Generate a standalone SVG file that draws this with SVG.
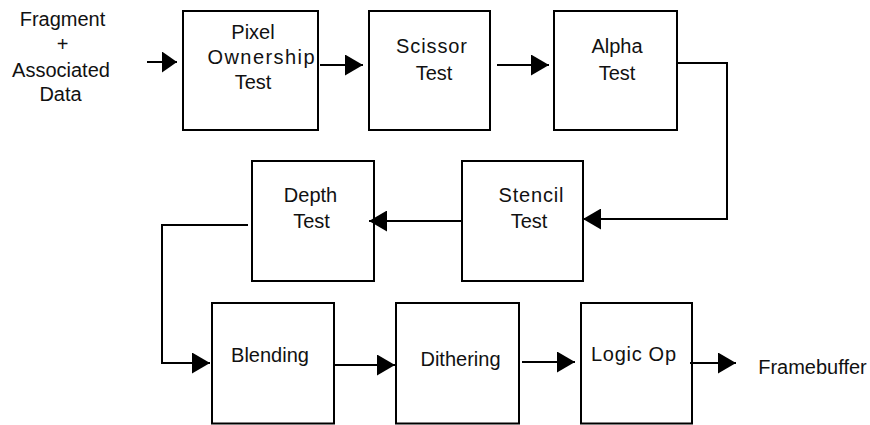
<svg xmlns="http://www.w3.org/2000/svg" width="870" height="425" viewBox="0 0 870 425">
  <style>
    .box { fill: #ffffff; stroke: #000000; stroke-width: 2; }
    .lbl { font-family: "Liberation Sans", Arial, sans-serif; font-size: 20px; fill: #111111; text-anchor: middle; }
    .wire { fill: none; stroke: #000000; stroke-width: 2; }
  </style>
  <defs>
    <marker id="head" markerUnits="userSpaceOnUse" markerWidth="18" markerHeight="21" refX="18" refY="10.5" orient="auto">
      <path d="M0,0 L18,10.5 L0,21 Z" fill="#000000"/>
    </marker>
    <marker id="head-sm" markerUnits="userSpaceOnUse" markerWidth="15" markerHeight="21" refX="15" refY="10.5" orient="auto">
      <path d="M0,0 L15,10.5 L0,21 Z" fill="#000000"/>
    </marker>
  </defs>
  <rect width="870" height="425" fill="#ffffff"/>

  <!-- input label -->
  <g id="input">
    <text class="lbl" x="62.5" y="26">Fragment</text>
    <text class="lbl" x="62.5" y="51">+</text>
    <text class="lbl" x="61" y="77">Associated</text>
    <text class="lbl" x="60.5" y="101">Data</text>
  </g>

  <!-- top row -->
  <g id="pixel-ownership">
    <rect class="box" x="183" y="11" width="135" height="119"/>
    <text class="lbl" x="253" y="39">Pixel</text>
    <text class="lbl" x="261" y="64" textLength="107" lengthAdjust="spacing">Ownership</text>
    <text class="lbl" x="253" y="89">Test</text>
  </g>
  <g id="scissor">
    <rect class="box" x="369" y="11" width="121" height="119"/>
    <text class="lbl" x="431.5" y="53" textLength="71" lengthAdjust="spacing">Scissor</text>
    <text class="lbl" x="434" y="80">Test</text>
  </g>
  <g id="alpha">
    <rect class="box" x="554" y="11" width="123" height="119"/>
    <text class="lbl" x="617" y="53">Alpha</text>
    <text class="lbl" x="617" y="80">Test</text>
  </g>

  <!-- middle row -->
  <g id="depth">
    <rect class="box" x="252" y="161" width="122" height="120"/>
    <text class="lbl" x="310.5" y="202">Depth</text>
    <text class="lbl" x="311.5" y="228">Test</text>
  </g>
  <g id="stencil">
    <rect class="box" x="462" y="161" width="121" height="120"/>
    <text class="lbl" x="531" y="202" textLength="65" lengthAdjust="spacing">Stencil</text>
    <text class="lbl" x="529" y="228">Test</text>
  </g>

  <!-- bottom row -->
  <g id="blending">
    <rect class="box" x="212" y="303" width="122" height="120.5"/>
    <text class="lbl" x="270" y="362">Blending</text>
  </g>
  <g id="dithering">
    <rect class="box" x="396" y="303" width="123" height="120.5"/>
    <text class="lbl" x="460.5" y="366">Dithering</text>
  </g>
  <g id="logic-op">
    <rect class="box" x="581" y="303" width="111" height="120.5"/>
    <text class="lbl" x="633.5" y="361" textLength="85" lengthAdjust="spacing">Logic Op</text>
  </g>
  <g id="framebuffer">
    <text class="lbl" x="812.5" y="374">Framebuffer</text>
  </g>

  <!-- connectors -->
  <g id="connectors">
    <path class="wire" d="M147,62 H177" marker-end="url(#head-sm)"/>
    <path class="wire" d="M320,65 H363" marker-end="url(#head)"/>
    <path class="wire" d="M497,65 H549" marker-end="url(#head)"/>
    <path class="wire" d="M678,63 H727 V219 H583" marker-end="url(#head)"/>
    <path class="wire" d="M461,221 H369" marker-end="url(#head)"/>
    <path class="wire" d="M248,225 H162 V363 H210" marker-end="url(#head)"/>
    <path class="wire" d="M333,365 H395" marker-end="url(#head)"/>
    <path class="wire" d="M522,362 H575" marker-end="url(#head)"/>
    <path class="wire" d="M690,363 H736" marker-end="url(#head)"/>
  </g>
</svg>
